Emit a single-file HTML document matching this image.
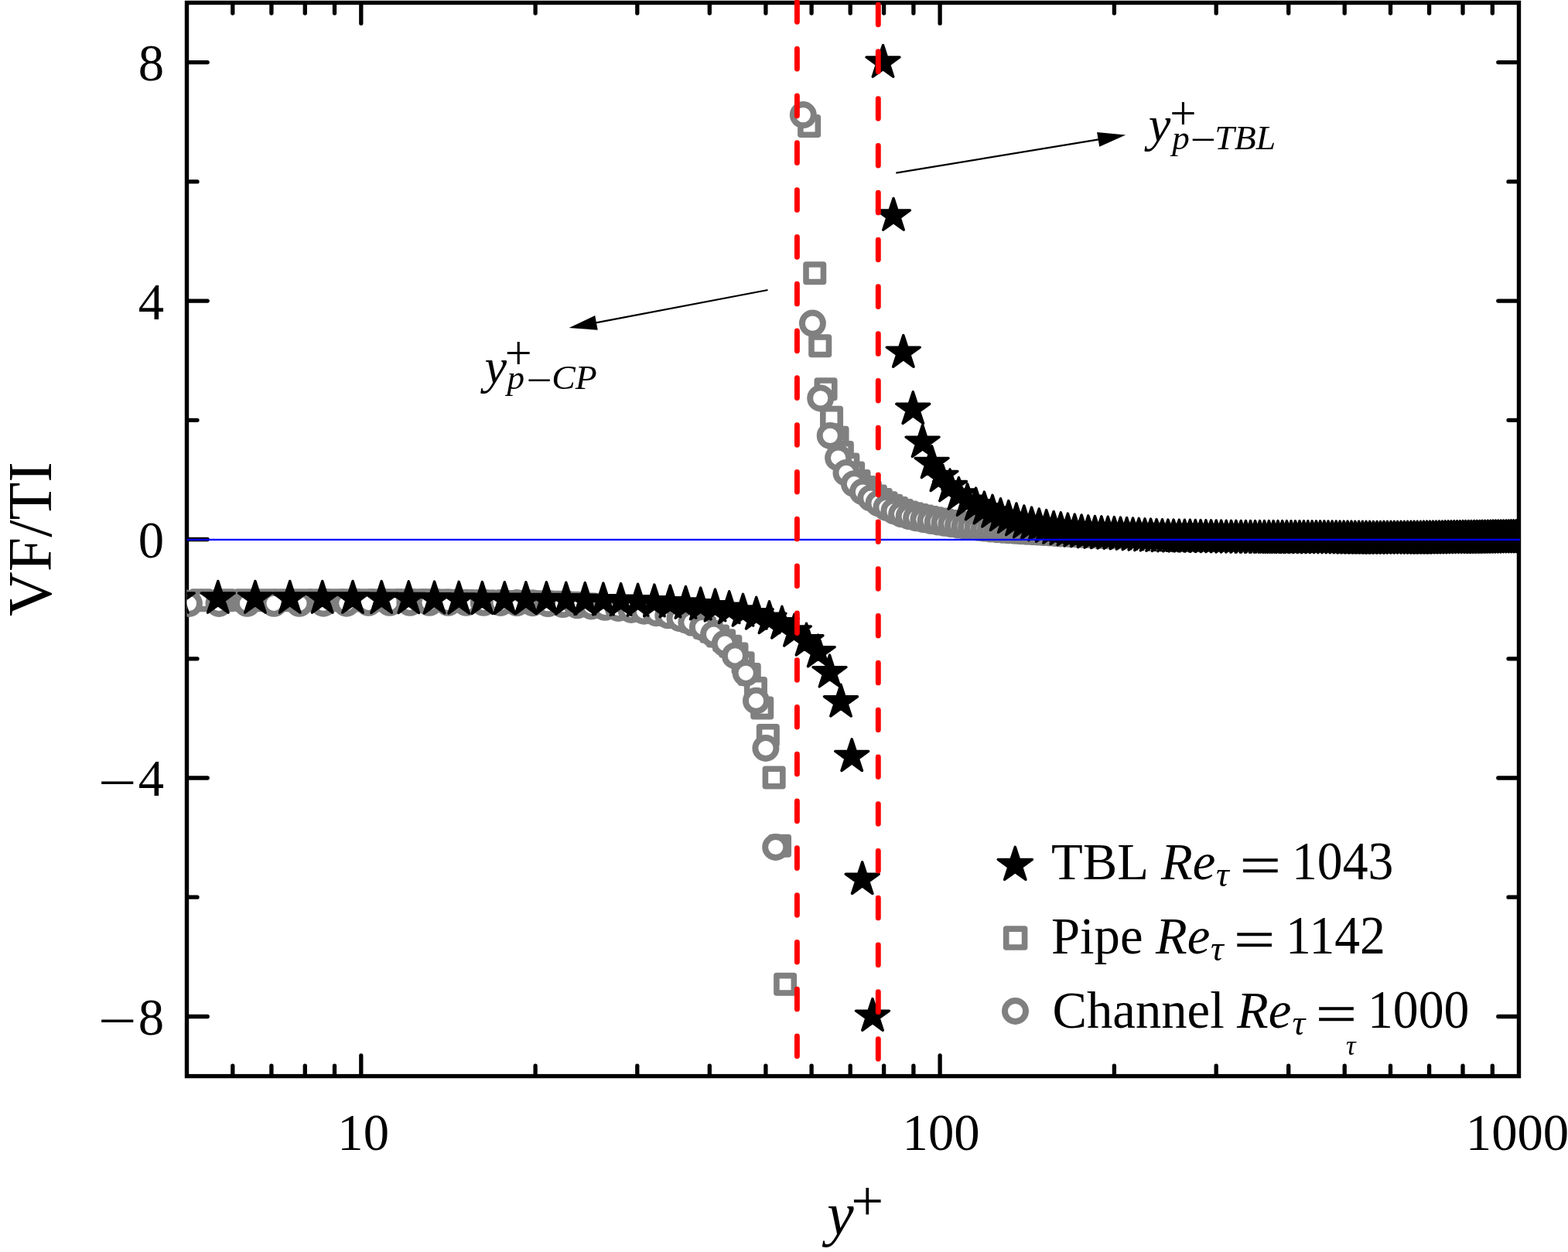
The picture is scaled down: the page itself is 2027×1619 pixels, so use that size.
<!DOCTYPE html>
<html lang="en"><head><meta charset="utf-8"><title>VF/TI versus y+</title>
<style>html,body{margin:0;padding:0;background:#fff}body{width:2027px;height:1619px;overflow:hidden}svg{display:block}text{font-family:"Liberation Serif","DejaVu Serif",serif;fill:#000}.i{font-style:italic}</style></head><body>
<svg width="2027" height="1619" viewBox="0 0 2027 1619">
<rect width="2027" height="1619" fill="#fff"/>
<clipPath id="pc"><rect x="241.5" y="3.5" width="1723.5" height="1388.1"/></clipPath>
<rect x="241.5" y="3.5" width="1722.0" height="1388.1" fill="none" stroke="#000" stroke-width="5.4"/>
<path d="M242.5 1314.5h25.7 M1962.5 1314.5h-25.7 M242.5 1006h25.7 M1962.5 1006h-25.7 M242.5 697.5h25.7 M1962.5 697.5h-25.7 M242.5 389.1h25.7 M1962.5 389.1h-25.7 M242.5 80.6h25.7 M1962.5 80.6h-25.7 M242.5 1160.2h12.5 M1962.5 1160.2h-12.5 M242.5 851.8h12.5 M1962.5 851.8h-12.5 M242.5 543.3h12.5 M1962.5 543.3h-12.5 M242.5 234.9h12.5 M1962.5 234.9h-12.5 M300.8 4.5v12.5 M300.8 1390.6v-12.5 M350.9 4.5v12.5 M350.9 1390.6v-12.5 M394.3 4.5v12.5 M394.3 1390.6v-12.5 M432.5 4.5v12.5 M432.5 1390.6v-12.5 M466.8 4.5v25.7 M466.8 1390.6v-25.7 M692.1 4.5v12.5 M692.1 1390.6v-12.5 M823.8 4.5v12.5 M823.8 1390.6v-12.5 M917.3 4.5v12.5 M917.3 1390.6v-12.5 M989.9 4.5v12.5 M989.9 1390.6v-12.5 M1049.1 4.5v12.5 M1049.1 1390.6v-12.5 M1099.2 4.5v12.5 M1099.2 1390.6v-12.5 M1142.6 4.5v12.5 M1142.6 1390.6v-12.5 M1180.9 4.5v12.5 M1180.9 1390.6v-12.5 M1215.1 4.5v25.7 M1215.1 1390.6v-25.7 M1440.4 4.5v12.5 M1440.4 1390.6v-12.5 M1572.2 4.5v12.5 M1572.2 1390.6v-12.5 M1665.7 4.5v12.5 M1665.7 1390.6v-12.5 M1738.2 4.5v12.5 M1738.2 1390.6v-12.5 M1797.5 4.5v12.5 M1797.5 1390.6v-12.5 M1847.6 4.5v12.5 M1847.6 1390.6v-12.5 M1891 4.5v12.5 M1891 1390.6v-12.5 M1929.3 4.5v12.5 M1929.3 1390.6v-12.5" fill="none" stroke="#000" stroke-width="5.3" stroke-linecap="round"/>
<g clip-path="url(#pc)">
<g fill="#fff" stroke="#808080" stroke-width="7.6" stroke-linejoin="round">
<rect x="217" y="765" width="22.45" height="22.45"/>
<rect x="249" y="765" width="22.45" height="22.45"/>
<rect x="278.6" y="765" width="22.45" height="22.45"/>
<rect x="306.1" y="765" width="22.45" height="22.45"/>
<rect x="331.9" y="765" width="22.45" height="22.45"/>
<rect x="356.1" y="765" width="22.45" height="22.45"/>
<rect x="379" y="765.1" width="22.45" height="22.45"/>
<rect x="400.8" y="765.1" width="22.45" height="22.45"/>
<rect x="421.4" y="765.1" width="22.45" height="22.45"/>
<rect x="441.2" y="765.1" width="22.45" height="22.45"/>
<rect x="460.1" y="765.1" width="22.45" height="22.45"/>
<rect x="478.2" y="765.1" width="22.45" height="22.45"/>
<rect x="495.7" y="765.1" width="22.45" height="22.45"/>
<rect x="512.5" y="765.1" width="22.45" height="22.45"/>
<rect x="528.8" y="765.1" width="22.45" height="22.45"/>
<rect x="544.5" y="765.1" width="22.45" height="22.45"/>
<rect x="559.7" y="765.3" width="22.45" height="22.45"/>
<rect x="574.5" y="765.5" width="22.45" height="22.45"/>
<rect x="588.8" y="765.8" width="22.45" height="22.45"/>
<rect x="602.8" y="766" width="22.45" height="22.45"/>
<rect x="616.4" y="766.3" width="22.45" height="22.45"/>
<rect x="629.6" y="766.5" width="22.45" height="22.45"/>
<rect x="642.5" y="766.7" width="22.45" height="22.45"/>
<rect x="655.2" y="766.8" width="22.45" height="22.45"/>
<rect x="667.5" y="767" width="22.45" height="22.45"/>
<rect x="679.6" y="767.2" width="22.45" height="22.45"/>
<rect x="691.4" y="767.4" width="22.45" height="22.45"/>
<rect x="703" y="767.6" width="22.45" height="22.45"/>
<rect x="714.4" y="767.8" width="22.45" height="22.45"/>
<rect x="725.6" y="768.5" width="22.45" height="22.45"/>
<rect x="736.5" y="769.3" width="22.45" height="22.45"/>
<rect x="747.3" y="770.2" width="22.45" height="22.45"/>
<rect x="757.9" y="771.7" width="22.45" height="22.45"/>
<rect x="768.3" y="772.9" width="22.45" height="22.45"/>
<rect x="778.5" y="773.7" width="22.45" height="22.45"/>
<rect x="788.6" y="774.5" width="22.45" height="22.45"/>
<rect x="798.6" y="775.5" width="22.45" height="22.45"/>
<rect x="808.4" y="776.6" width="22.45" height="22.45"/>
<rect x="818.1" y="777.7" width="22.45" height="22.45"/>
<rect x="827.6" y="779" width="22.45" height="22.45"/>
<rect x="837" y="780.6" width="22.45" height="22.45"/>
<rect x="846.3" y="782.3" width="22.45" height="22.45"/>
<rect x="855.5" y="784.3" width="22.45" height="22.45"/>
<rect x="864.5" y="786.6" width="22.45" height="22.45"/>
<rect x="873.5" y="789.3" width="22.45" height="22.45"/>
<rect x="882.3" y="792.4" width="22.45" height="22.45"/>
<rect x="891.1" y="796.2" width="22.45" height="22.45"/>
<rect x="899.7" y="800.6" width="22.45" height="22.45"/>
<rect x="908.3" y="805.6" width="22.45" height="22.45"/>
<rect x="916.8" y="811.2" width="22.45" height="22.45"/>
<rect x="924.9" y="817.1" width="22.45" height="22.45"/>
<rect x="933.1" y="824.6" width="22.45" height="22.45"/>
<rect x="941.2" y="834.2" width="22.45" height="22.45"/>
<rect x="949.4" y="846" width="22.45" height="22.45"/>
<rect x="957.5" y="860.8" width="22.45" height="22.45"/>
<rect x="965.7" y="878.7" width="22.45" height="22.45"/>
<rect x="974" y="904.2" width="22.45" height="22.45"/>
<rect x="981.6" y="939.7" width="22.45" height="22.45"/>
<rect x="989.4" y="994.3" width="22.45" height="22.45"/>
<rect x="996.8" y="1082.6" width="22.45" height="22.45"/>
<rect x="1003.9" y="1261.6" width="22.45" height="22.45"/>
<rect x="1034.9" y="151.8" width="22.45" height="22.45"/>
<rect x="1042" y="342" width="22.45" height="22.45"/>
<rect x="1049" y="436" width="22.45" height="22.45"/>
<rect x="1056.3" y="492" width="22.45" height="22.45"/>
<rect x="1063.8" y="528.6" width="22.45" height="22.45"/>
<rect x="1071.3" y="554.5" width="22.45" height="22.45"/>
<rect x="1077.6" y="573.8" width="22.45" height="22.45"/>
<rect x="1085.1" y="589.3" width="22.45" height="22.45"/>
<rect x="1091.9" y="600.4" width="22.45" height="22.45"/>
<rect x="1099.3" y="610.9" width="22.45" height="22.45"/>
<rect x="1106.7" y="618.9" width="22.45" height="22.45"/>
<rect x="1113.6" y="625" width="22.45" height="22.45"/>
<rect x="1120.6" y="630.3" width="22.45" height="22.45"/>
<rect x="1127.5" y="634.9" width="22.45" height="22.45"/>
<rect x="1134.3" y="639" width="22.45" height="22.45"/>
<rect x="1141.1" y="642.6" width="22.45" height="22.45"/>
<rect x="1147.9" y="645.9" width="22.45" height="22.45"/>
<rect x="1154.7" y="648.8" width="22.45" height="22.45"/>
<rect x="1161.4" y="651.3" width="22.45" height="22.45"/>
<rect x="1168.1" y="653.1" width="22.45" height="22.45"/>
<rect x="1174.7" y="654.8" width="22.45" height="22.45"/>
<rect x="1181.4" y="656.3" width="22.45" height="22.45"/>
<rect x="1188" y="657.8" width="22.45" height="22.45"/>
<rect x="1194.5" y="659.1" width="22.45" height="22.45"/>
<rect x="1201.1" y="660.4" width="22.45" height="22.45"/>
<rect x="1207.6" y="661.6" width="22.45" height="22.45"/>
<rect x="1214.1" y="662.7" width="22.45" height="22.45"/>
<rect x="1220.5" y="663.8" width="22.45" height="22.45"/>
<rect x="1226.9" y="664.9" width="22.45" height="22.45"/>
<rect x="1233.4" y="665.9" width="22.45" height="22.45"/>
<rect x="1239.7" y="666.9" width="22.45" height="22.45"/>
<rect x="1246.1" y="667.8" width="22.45" height="22.45"/>
<rect x="1252.4" y="668.6" width="22.45" height="22.45"/>
<rect x="1258.7" y="669.4" width="22.45" height="22.45"/>
<rect x="1265" y="670.2" width="22.45" height="22.45"/>
<rect x="1271.3" y="670.9" width="22.45" height="22.45"/>
<rect x="1277.6" y="671.5" width="22.45" height="22.45"/>
<rect x="1283.8" y="672.2" width="22.45" height="22.45"/>
<rect x="1290" y="672.8" width="22.45" height="22.45"/>
<rect x="1296.2" y="673.4" width="22.45" height="22.45"/>
<rect x="1302.4" y="673.9" width="22.45" height="22.45"/>
<rect x="1308.5" y="674.4" width="22.45" height="22.45"/>
<rect x="1314.6" y="674.9" width="22.45" height="22.45"/>
<rect x="1320.7" y="675.4" width="22.45" height="22.45"/>
<rect x="1326.8" y="675.8" width="22.45" height="22.45"/>
<rect x="1332.9" y="676.3" width="22.45" height="22.45"/>
<rect x="1339" y="676.8" width="22.45" height="22.45"/>
<rect x="1345" y="677.2" width="22.45" height="22.45"/>
<rect x="1351.1" y="677.6" width="22.45" height="22.45"/>
<rect x="1357.1" y="678" width="22.45" height="22.45"/>
<rect x="1363.1" y="678.3" width="22.45" height="22.45"/>
<rect x="1369" y="678.7" width="22.45" height="22.45"/>
<rect x="1375" y="679" width="22.45" height="22.45"/>
<rect x="1381" y="679.3" width="22.45" height="22.45"/>
<rect x="1386.9" y="679.7" width="22.45" height="22.45"/>
<rect x="1392.8" y="680" width="22.45" height="22.45"/>
<rect x="1398.7" y="680.3" width="22.45" height="22.45"/>
<rect x="1404.6" y="680.6" width="22.45" height="22.45"/>
<rect x="1410.5" y="680.9" width="22.45" height="22.45"/>
<rect x="1416.4" y="681.1" width="22.45" height="22.45"/>
<rect x="1422.2" y="681.4" width="22.45" height="22.45"/>
<rect x="1428.1" y="681.5" width="22.45" height="22.45"/>
<rect x="1433.9" y="681.2" width="22.45" height="22.45"/>
<rect x="1439.7" y="681" width="22.45" height="22.45"/>
<rect x="1445.5" y="680.8" width="22.45" height="22.45"/>
<rect x="1451.3" y="680.8" width="22.45" height="22.45"/>
<rect x="1457.1" y="680.7" width="22.45" height="22.45"/>
<rect x="1462.9" y="680.7" width="22.45" height="22.45"/>
<rect x="1468.7" y="680.9" width="22.45" height="22.45"/>
<rect x="1474.4" y="681" width="22.45" height="22.45"/>
<rect x="1480.2" y="681.2" width="22.45" height="22.45"/>
<rect x="1485.9" y="681.4" width="22.45" height="22.45"/>
<rect x="1491.6" y="681.5" width="22.45" height="22.45"/>
<rect x="1497.3" y="681.8" width="22.45" height="22.45"/>
<rect x="1503" y="681.9" width="22.45" height="22.45"/>
<rect x="1508.7" y="682" width="22.45" height="22.45"/>
<rect x="1514.4" y="682" width="22.45" height="22.45"/>
<rect x="1520.1" y="682" width="22.45" height="22.45"/>
<rect x="1525.8" y="682" width="22.45" height="22.45"/>
<rect x="1531.4" y="682.1" width="22.45" height="22.45"/>
<rect x="1537.1" y="682.2" width="22.45" height="22.45"/>
<rect x="1542.7" y="682.3" width="22.45" height="22.45"/>
<rect x="1548.3" y="682.5" width="22.45" height="22.45"/>
<rect x="1554" y="682.6" width="22.45" height="22.45"/>
<rect x="1559.6" y="682.7" width="22.45" height="22.45"/>
<rect x="1565.2" y="682.8" width="22.45" height="22.45"/>
<rect x="1570.8" y="682.9" width="22.45" height="22.45"/>
<rect x="1576.4" y="683" width="22.45" height="22.45"/>
<rect x="1582" y="683.1" width="22.45" height="22.45"/>
<rect x="1587.5" y="683.1" width="22.45" height="22.45"/>
<rect x="1593.1" y="683.2" width="22.45" height="22.45"/>
<rect x="1598.7" y="683.2" width="22.45" height="22.45"/>
<rect x="1604.2" y="683.2" width="22.45" height="22.45"/>
<rect x="1609.8" y="683.2" width="22.45" height="22.45"/>
<rect x="1615.3" y="683.3" width="22.45" height="22.45"/>
<rect x="1620.9" y="683.3" width="22.45" height="22.45"/>
<rect x="1626.4" y="683.3" width="22.45" height="22.45"/>
<rect x="1631.9" y="683.3" width="22.45" height="22.45"/>
<rect x="1637.4" y="683.4" width="22.45" height="22.45"/>
<rect x="1643" y="683.4" width="22.45" height="22.45"/>
<rect x="1648.5" y="683.4" width="22.45" height="22.45"/>
<rect x="1654" y="683.4" width="22.45" height="22.45"/>
<rect x="1659.5" y="683.5" width="22.45" height="22.45"/>
<rect x="1664.9" y="683.5" width="22.45" height="22.45"/>
<rect x="1670.4" y="683.5" width="22.45" height="22.45"/>
<rect x="1675.9" y="683.5" width="22.45" height="22.45"/>
<rect x="1681.4" y="683.5" width="22.45" height="22.45"/>
<rect x="1686.9" y="683.6" width="22.45" height="22.45"/>
<rect x="1692.3" y="683.6" width="22.45" height="22.45"/>
<rect x="1697.8" y="683.6" width="22.45" height="22.45"/>
<rect x="1703.2" y="683.6" width="22.45" height="22.45"/>
<rect x="1708.7" y="683.7" width="22.45" height="22.45"/>
<rect x="1714.1" y="683.7" width="22.45" height="22.45"/>
<rect x="1719.6" y="683.8" width="22.45" height="22.45"/>
<rect x="1725" y="683.8" width="22.45" height="22.45"/>
<rect x="1730.4" y="683.9" width="22.45" height="22.45"/>
<rect x="1735.8" y="683.9" width="22.45" height="22.45"/>
<rect x="1741.3" y="684" width="22.45" height="22.45"/>
<rect x="1746.7" y="684" width="22.45" height="22.45"/>
<rect x="1752.1" y="684" width="22.45" height="22.45"/>
<rect x="1757.5" y="684.1" width="22.45" height="22.45"/>
<rect x="1762.9" y="684.1" width="22.45" height="22.45"/>
<rect x="1768.3" y="684.2" width="22.45" height="22.45"/>
<rect x="1773.7" y="684.1" width="22.45" height="22.45"/>
<rect x="1779.1" y="684.1" width="22.45" height="22.45"/>
<rect x="1784.5" y="684.1" width="22.45" height="22.45"/>
<rect x="1789.9" y="684.1" width="22.45" height="22.45"/>
<rect x="1795.2" y="684.1" width="22.45" height="22.45"/>
<rect x="1800.6" y="684.1" width="22.45" height="22.45"/>
<rect x="1806" y="684" width="22.45" height="22.45"/>
<rect x="1811.4" y="684" width="22.45" height="22.45"/>
<rect x="1816.7" y="684" width="22.45" height="22.45"/>
<rect x="1822.1" y="684" width="22.45" height="22.45"/>
<rect x="1827.4" y="683.9" width="22.45" height="22.45"/>
<rect x="1832.8" y="683.9" width="22.45" height="22.45"/>
<rect x="1838.2" y="683.8" width="22.45" height="22.45"/>
<rect x="1843.5" y="683.8" width="22.45" height="22.45"/>
<rect x="1848.9" y="683.7" width="22.45" height="22.45"/>
<rect x="1854.2" y="683.7" width="22.45" height="22.45"/>
<rect x="1859.5" y="683.6" width="22.45" height="22.45"/>
<rect x="1864.9" y="683.6" width="22.45" height="22.45"/>
<rect x="1870.2" y="683.5" width="22.45" height="22.45"/>
<rect x="1875.5" y="683.5" width="22.45" height="22.45"/>
<rect x="1880.9" y="683.4" width="22.45" height="22.45"/>
<rect x="1886.2" y="683.3" width="22.45" height="22.45"/>
<rect x="1891.5" y="683.3" width="22.45" height="22.45"/>
<rect x="1896.8" y="683.2" width="22.45" height="22.45"/>
<rect x="1902.2" y="683.1" width="22.45" height="22.45"/>
<rect x="1907.5" y="683.1" width="22.45" height="22.45"/>
<rect x="1912.8" y="683" width="22.45" height="22.45"/>
<rect x="1918.1" y="682.9" width="22.45" height="22.45"/>
<rect x="1923.4" y="682.9" width="22.45" height="22.45"/>
<rect x="1928.7" y="682.8" width="22.45" height="22.45"/>
<rect x="1934" y="682.7" width="22.45" height="22.45"/>
<rect x="1939.3" y="682.7" width="22.45" height="22.45"/>
<rect x="1944.6" y="682.6" width="22.45" height="22.45"/>
<rect x="1949.9" y="682.5" width="22.45" height="22.45"/>
<rect x="1955.2" y="682.5" width="22.45" height="22.45"/>
<rect x="1960.5" y="682.5" width="22.45" height="22.45"/>
<rect x="1965.8" y="682.4" width="22.45" height="22.45"/>
<rect x="1971.1" y="682.4" width="22.45" height="22.45"/>
</g>
<g fill="#fff" stroke="#808080" stroke-width="7.9">
<circle cx="203.3" cy="780.4" r="13.55"/>
<circle cx="244.4" cy="780.4" r="13.55"/>
<circle cx="283" cy="780.4" r="13.55"/>
<circle cx="319.5" cy="780.3" r="13.55"/>
<circle cx="354.1" cy="780.3" r="13.55"/>
<circle cx="386.9" cy="780.3" r="13.55"/>
<circle cx="418.1" cy="780.2" r="13.55"/>
<circle cx="447.9" cy="780.2" r="13.55"/>
<circle cx="476.4" cy="779.3" r="13.55"/>
<circle cx="503.7" cy="779.3" r="13.55"/>
<circle cx="529.9" cy="779.3" r="13.55"/>
<circle cx="555.1" cy="779.3" r="13.55"/>
<circle cx="579.3" cy="779.3" r="13.55"/>
<circle cx="602.7" cy="779.3" r="13.55"/>
<circle cx="625.3" cy="779.3" r="13.55"/>
<circle cx="647.1" cy="779.4" r="13.55"/>
<circle cx="668.2" cy="779.6" r="13.55"/>
<circle cx="688.6" cy="779.7" r="13.55"/>
<circle cx="708.4" cy="780.6" r="13.55"/>
<circle cx="727.6" cy="781.6" r="13.55"/>
<circle cx="746.3" cy="782.8" r="13.55"/>
<circle cx="764.5" cy="784" r="13.55"/>
<circle cx="782.1" cy="785.3" r="13.55"/>
<circle cx="799.3" cy="786.5" r="13.55"/>
<circle cx="816" cy="788.4" r="13.55"/>
<circle cx="832.4" cy="790.2" r="13.55"/>
<circle cx="848.3" cy="792.7" r="13.55"/>
<circle cx="863.8" cy="795.8" r="13.55"/>
<circle cx="879" cy="799.7" r="13.55"/>
<circle cx="893.9" cy="804.7" r="13.55"/>
<circle cx="908.4" cy="811.3" r="13.55"/>
<circle cx="922.6" cy="820.2" r="13.55"/>
<circle cx="937.2" cy="832.1" r="13.55"/>
<circle cx="950.4" cy="847.9" r="13.55"/>
<circle cx="964.2" cy="870.3" r="13.55"/>
<circle cx="977.5" cy="906.2" r="13.55"/>
<circle cx="989.9" cy="967.5" r="13.55"/>
<circle cx="1002.7" cy="1095.5" r="13.55"/>
<circle cx="1038.3" cy="148.6" r="13.55"/>
<circle cx="1050.4" cy="418.1" r="13.55"/>
<circle cx="1060.7" cy="514.9" r="13.55"/>
<circle cx="1073.2" cy="563.4" r="13.55"/>
<circle cx="1083.6" cy="592" r="13.55"/>
<circle cx="1094" cy="611.4" r="13.55"/>
<circle cx="1104.4" cy="625.7" r="13.55"/>
<circle cx="1115.4" cy="636" r="13.55"/>
<circle cx="1125.8" cy="644.2" r="13.55"/>
<circle cx="1136" cy="650.9" r="13.55"/>
<circle cx="1146" cy="656.3" r="13.55"/>
<circle cx="1155.9" cy="660.9" r="13.55"/>
<circle cx="1165.6" cy="664.8" r="13.55"/>
<circle cx="1175.2" cy="667.7" r="13.55"/>
<circle cx="1184.6" cy="669.8" r="13.55"/>
<circle cx="1193.9" cy="671.7" r="13.55"/>
<circle cx="1203.1" cy="673.4" r="13.55"/>
<circle cx="1212.2" cy="674.9" r="13.55"/>
<circle cx="1221.1" cy="676.3" r="13.55"/>
<circle cx="1229.9" cy="677.6" r="13.55"/>
<circle cx="1238.6" cy="678.9" r="13.55"/>
<circle cx="1247.2" cy="680.1" r="13.55"/>
<circle cx="1255.6" cy="681.2" r="13.55"/>
<circle cx="1264" cy="682.2" r="13.55"/>
<circle cx="1272.2" cy="683.1" r="13.55"/>
<circle cx="1280.4" cy="683.9" r="13.55"/>
<circle cx="1288.4" cy="684.7" r="13.55"/>
<circle cx="1296.4" cy="685.3" r="13.55"/>
<circle cx="1304.2" cy="685.8" r="13.55"/>
<circle cx="1312" cy="686.3" r="13.55"/>
<circle cx="1319.6" cy="686.8" r="13.55"/>
<circle cx="1327.2" cy="687.3" r="13.55"/>
<circle cx="1334.7" cy="687.7" r="13.55"/>
<circle cx="1342.1" cy="688.1" r="13.55"/>
<circle cx="1349.4" cy="688.6" r="13.55"/>
<circle cx="1356.6" cy="689" r="13.55"/>
<circle cx="1363.8" cy="689.5" r="13.55"/>
<circle cx="1370.9" cy="689.9" r="13.55"/>
<circle cx="1377.9" cy="690.2" r="13.55"/>
<circle cx="1384.8" cy="690.6" r="13.55"/>
<circle cx="1391.7" cy="690.9" r="13.55"/>
<circle cx="1398.5" cy="691.3" r="13.55"/>
<circle cx="1405.2" cy="691.6" r="13.55"/>
<circle cx="1411.8" cy="691.9" r="13.55"/>
<circle cx="1418.4" cy="692.2" r="13.55"/>
<circle cx="1424.9" cy="692.5" r="13.55"/>
<circle cx="1431.4" cy="692.7" r="13.55"/>
<circle cx="1437.7" cy="693" r="13.55"/>
<circle cx="1444.1" cy="692.7" r="13.55"/>
<circle cx="1450.3" cy="692.4" r="13.55"/>
<circle cx="1456.5" cy="692.2" r="13.55"/>
<circle cx="1462.7" cy="692.1" r="13.55"/>
<circle cx="1468.7" cy="692.1" r="13.55"/>
<circle cx="1474.8" cy="692.1" r="13.55"/>
<circle cx="1480.8" cy="692.2" r="13.55"/>
<circle cx="1486.7" cy="692.3" r="13.55"/>
<circle cx="1492.5" cy="692.5" r="13.55"/>
<circle cx="1498.4" cy="692.6" r="13.55"/>
<circle cx="1504.1" cy="692.8" r="13.55"/>
<circle cx="1509.8" cy="693" r="13.55"/>
<circle cx="1515.5" cy="693.1" r="13.55"/>
<circle cx="1521.1" cy="693.2" r="13.55"/>
<circle cx="1526.7" cy="693.2" r="13.55"/>
<circle cx="1532.2" cy="693.2" r="13.55"/>
<circle cx="1537.6" cy="693.2" r="13.55"/>
<circle cx="1543.1" cy="693.3" r="13.55"/>
<circle cx="1548.5" cy="693.4" r="13.55"/>
<circle cx="1553.8" cy="693.6" r="13.55"/>
<circle cx="1559.1" cy="693.7" r="13.55"/>
<circle cx="1564.3" cy="693.8" r="13.55"/>
<circle cx="1569.5" cy="693.9" r="13.55"/>
<circle cx="1574.7" cy="694" r="13.55"/>
<circle cx="1579.8" cy="694.1" r="13.55"/>
<circle cx="1584.9" cy="694.2" r="13.55"/>
<circle cx="1590" cy="694.3" r="13.55"/>
<circle cx="1595" cy="694.3" r="13.55"/>
<circle cx="1599.9" cy="694.4" r="13.55"/>
<circle cx="1604.9" cy="694.4" r="13.55"/>
<circle cx="1609.8" cy="694.4" r="13.55"/>
<circle cx="1614.6" cy="694.4" r="13.55"/>
<circle cx="1619.4" cy="694.5" r="13.55"/>
<circle cx="1624.2" cy="694.5" r="13.55"/>
<circle cx="1629" cy="694.5" r="13.55"/>
<circle cx="1633.7" cy="694.5" r="13.55"/>
<circle cx="1638.4" cy="694.5" r="13.55"/>
<circle cx="1643" cy="694.6" r="13.55"/>
<circle cx="1647.6" cy="694.6" r="13.55"/>
<circle cx="1652.2" cy="694.6" r="13.55"/>
<circle cx="1656.8" cy="694.6" r="13.55"/>
<circle cx="1661.3" cy="694.7" r="13.55"/>
<circle cx="1665.8" cy="694.7" r="13.55"/>
<circle cx="1670.2" cy="694.7" r="13.55"/>
<circle cx="1674.7" cy="694.7" r="13.55"/>
<circle cx="1679.1" cy="694.7" r="13.55"/>
<circle cx="1683.4" cy="694.7" r="13.55"/>
<circle cx="1687.8" cy="694.7" r="13.55"/>
<circle cx="1692.1" cy="694.8" r="13.55"/>
<circle cx="1696.4" cy="694.8" r="13.55"/>
<circle cx="1700.6" cy="694.8" r="13.55"/>
<circle cx="1704.9" cy="694.8" r="13.55"/>
<circle cx="1709" cy="694.8" r="13.55"/>
<circle cx="1713.2" cy="694.8" r="13.55"/>
<circle cx="1717.4" cy="694.9" r="13.55"/>
<circle cx="1721.5" cy="694.9" r="13.55"/>
<circle cx="1725.6" cy="694.9" r="13.55"/>
<circle cx="1729.6" cy="695" r="13.55"/>
<circle cx="1733.7" cy="695" r="13.55"/>
<circle cx="1737.7" cy="695" r="13.55"/>
<circle cx="1741.7" cy="695.1" r="13.55"/>
<circle cx="1745.7" cy="695.1" r="13.55"/>
<circle cx="1749.6" cy="695.2" r="13.55"/>
<circle cx="1753.5" cy="695.2" r="13.55"/>
<circle cx="1757.4" cy="695.2" r="13.55"/>
<circle cx="1761.3" cy="695.3" r="13.55"/>
<circle cx="1765.1" cy="695.3" r="13.55"/>
<circle cx="1769" cy="695.3" r="13.55"/>
<circle cx="1772.8" cy="695.4" r="13.55"/>
<circle cx="1776.6" cy="695.4" r="13.55"/>
<circle cx="1780.3" cy="695.4" r="13.55"/>
<circle cx="1784.1" cy="695.4" r="13.55"/>
<circle cx="1787.8" cy="695.4" r="13.55"/>
<circle cx="1791.5" cy="695.3" r="13.55"/>
<circle cx="1795.2" cy="695.3" r="13.55"/>
<circle cx="1798.8" cy="695.3" r="13.55"/>
<circle cx="1802.4" cy="695.3" r="13.55"/>
<circle cx="1806.1" cy="695.3" r="13.55"/>
<circle cx="1809.7" cy="695.3" r="13.55"/>
<circle cx="1813.2" cy="695.3" r="13.55"/>
<circle cx="1816.8" cy="695.3" r="13.55"/>
<circle cx="1820.3" cy="695.3" r="13.55"/>
<circle cx="1823.8" cy="695.3" r="13.55"/>
<circle cx="1827.3" cy="695.2" r="13.55"/>
<circle cx="1830.8" cy="695.2" r="13.55"/>
<circle cx="1834.3" cy="695.2" r="13.55"/>
<circle cx="1837.7" cy="695.2" r="13.55"/>
<circle cx="1841.1" cy="695.1" r="13.55"/>
<circle cx="1844.6" cy="695.1" r="13.55"/>
<circle cx="1847.9" cy="695.1" r="13.55"/>
<circle cx="1851.3" cy="695" r="13.55"/>
<circle cx="1854.7" cy="695" r="13.55"/>
<circle cx="1858" cy="695" r="13.55"/>
<circle cx="1861.3" cy="694.9" r="13.55"/>
<circle cx="1864.6" cy="694.9" r="13.55"/>
<circle cx="1867.9" cy="694.9" r="13.55"/>
<circle cx="1871.2" cy="694.8" r="13.55"/>
<circle cx="1874.4" cy="694.8" r="13.55"/>
<circle cx="1877.7" cy="694.8" r="13.55"/>
<circle cx="1880.9" cy="694.7" r="13.55"/>
<circle cx="1884.1" cy="694.7" r="13.55"/>
<circle cx="1887.3" cy="694.7" r="13.55"/>
<circle cx="1890.5" cy="694.6" r="13.55"/>
<circle cx="1893.6" cy="694.6" r="13.55"/>
<circle cx="1896.8" cy="694.6" r="13.55"/>
<circle cx="1899.9" cy="694.5" r="13.55"/>
<circle cx="1903" cy="694.5" r="13.55"/>
<circle cx="1906.1" cy="694.5" r="13.55"/>
<circle cx="1909.2" cy="694.4" r="13.55"/>
<circle cx="1912.3" cy="694.4" r="13.55"/>
<circle cx="1915.3" cy="694.3" r="13.55"/>
<circle cx="1918.3" cy="694.3" r="13.55"/>
<circle cx="1921.4" cy="694.3" r="13.55"/>
<circle cx="1924.4" cy="694.2" r="13.55"/>
<circle cx="1927.4" cy="694.2" r="13.55"/>
<circle cx="1930.4" cy="694.2" r="13.55"/>
<circle cx="1933.3" cy="694.1" r="13.55"/>
<circle cx="1936.3" cy="694.1" r="13.55"/>
<circle cx="1939.2" cy="694" r="13.55"/>
<circle cx="1942.2" cy="694" r="13.55"/>
<circle cx="1945.1" cy="694" r="13.55"/>
<circle cx="1948" cy="693.9" r="13.55"/>
<circle cx="1950.9" cy="693.9" r="13.55"/>
<circle cx="1953.8" cy="693.8" r="13.55"/>
<circle cx="1956.6" cy="693.8" r="13.55"/>
<circle cx="1959.5" cy="693.8" r="13.55"/>
<circle cx="1962.3" cy="693.7" r="13.55"/>
<circle cx="1965.1" cy="693.7" r="13.55"/>
<circle cx="1968" cy="693.7" r="13.55"/>
<circle cx="1970.8" cy="693.7" r="13.55"/>
<circle cx="1973.6" cy="693.7" r="13.55"/>
<circle cx="1976.3" cy="693.7" r="13.55"/>
<circle cx="1979.1" cy="693.6" r="13.55"/>
<circle cx="1981.9" cy="693.6" r="13.55"/>
<circle cx="1984.6" cy="693.6" r="13.55"/>
<circle cx="1987.3" cy="693.6" r="13.55"/>
</g>
<path d="M229.8 751.4l5.07 15.59 16.39 -0.00 -13.26 9.63 5.07 15.59 -13.26 -9.63 -13.26 9.63 5.07 -15.59 -13.26 -9.63 16.39 0.00zM281.8 751.4l5.07 15.59 16.39 -0.00 -13.26 9.63 5.07 15.59 -13.26 -9.63 -13.26 9.63 5.07 -15.59 -13.26 -9.63 16.39 0.00zM329.9 751.4l5.07 15.59 16.39 -0.00 -13.26 9.63 5.07 15.59 -13.26 -9.63 -13.26 9.63 5.07 -15.59 -13.26 -9.63 16.39 0.00zM374.7 751.4l5.07 15.59 16.39 -0.00 -13.26 9.63 5.07 15.59 -13.26 -9.63 -13.26 9.63 5.07 -15.59 -13.26 -9.63 16.39 0.00zM416.7 751.4l5.07 15.59 16.39 -0.00 -13.26 9.63 5.07 15.59 -13.26 -9.63 -13.26 9.63 5.07 -15.59 -13.26 -9.63 16.39 0.00zM456 751.4l5.07 15.59 16.39 -0.00 -13.26 9.63 5.07 15.59 -13.26 -9.63 -13.26 9.63 5.07 -15.59 -13.26 -9.63 16.39 0.00zM493.2 751.6l5.07 15.59 16.39 -0.00 -13.26 9.63 5.07 15.59 -13.26 -9.63 -13.26 9.63 5.07 -15.59 -13.26 -9.63 16.39 0.00zM528.3 751.8l5.07 15.59 16.39 -0.00 -13.26 9.63 5.07 15.59 -13.26 -9.63 -13.26 9.63 5.07 -15.59 -13.26 -9.63 16.39 0.00zM561.6 752.1l5.07 15.59 16.39 -0.00 -13.26 9.63 5.07 15.59 -13.26 -9.63 -13.26 9.63 5.07 -15.59 -13.26 -9.63 16.39 0.00zM593.2 752.3l5.07 15.59 16.39 -0.00 -13.26 9.63 5.07 15.59 -13.26 -9.63 -13.26 9.63 5.07 -15.59 -13.26 -9.63 16.39 0.00zM623.4 752.6l5.07 15.59 16.39 -0.00 -13.26 9.63 5.07 15.59 -13.26 -9.63 -13.26 9.63 5.07 -15.59 -13.26 -9.63 16.39 0.00zM652.3 752.7l5.07 15.59 16.39 -0.00 -13.26 9.63 5.07 15.59 -13.26 -9.63 -13.26 9.63 5.07 -15.59 -13.26 -9.63 16.39 0.00zM679.9 752.8l5.07 15.59 16.39 -0.00 -13.26 9.63 5.07 15.59 -13.26 -9.63 -13.26 9.63 5.07 -15.59 -13.26 -9.63 16.39 0.00zM706.4 752.8l5.07 15.59 16.39 -0.00 -13.26 9.63 5.07 15.59 -13.26 -9.63 -13.26 9.63 5.07 -15.59 -13.26 -9.63 16.39 0.00zM731.8 753.2l5.07 15.59 16.39 -0.00 -13.26 9.63 5.07 15.59 -13.26 -9.63 -13.26 9.63 5.07 -15.59 -13.26 -9.63 16.39 0.00zM756.3 753.6l5.07 15.59 16.39 -0.00 -13.26 9.63 5.07 15.59 -13.26 -9.63 -13.26 9.63 5.07 -15.59 -13.26 -9.63 16.39 0.00zM779.9 754l5.07 15.59 16.39 -0.00 -13.26 9.63 5.07 15.59 -13.26 -9.63 -13.26 9.63 5.07 -15.59 -13.26 -9.63 16.39 0.00zM802.6 754.6l5.07 15.59 16.39 -0.00 -13.26 9.63 5.07 15.59 -13.26 -9.63 -13.26 9.63 5.07 -15.59 -13.26 -9.63 16.39 0.00zM824.6 755.2l5.07 15.59 16.39 -0.00 -13.26 9.63 5.07 15.59 -13.26 -9.63 -13.26 9.63 5.07 -15.59 -13.26 -9.63 16.39 0.00zM845.9 756l5.07 15.59 16.39 -0.00 -13.26 9.63 5.07 15.59 -13.26 -9.63 -13.26 9.63 5.07 -15.59 -13.26 -9.63 16.39 0.00zM866.4 757l5.07 15.59 16.39 -0.00 -13.26 9.63 5.07 15.59 -13.26 -9.63 -13.26 9.63 5.07 -15.59 -13.26 -9.63 16.39 0.00zM886.4 758.4l5.07 15.59 16.39 -0.00 -13.26 9.63 5.07 15.59 -13.26 -9.63 -13.26 9.63 5.07 -15.59 -13.26 -9.63 16.39 0.00zM905.7 760l5.07 15.59 16.39 -0.00 -13.26 9.63 5.07 15.59 -13.26 -9.63 -13.26 9.63 5.07 -15.59 -13.26 -9.63 16.39 0.00zM924.5 762.1l5.07 15.59 16.39 -0.00 -13.26 9.63 5.07 15.59 -13.26 -9.63 -13.26 9.63 5.07 -15.59 -13.26 -9.63 16.39 0.00zM942.7 764.7l5.07 15.59 16.39 -0.00 -13.26 9.63 5.07 15.59 -13.26 -9.63 -13.26 9.63 5.07 -15.59 -13.26 -9.63 16.39 0.00zM960.5 768.3l5.07 15.59 16.39 -0.00 -13.26 9.63 5.07 15.59 -13.26 -9.63 -13.26 9.63 5.07 -15.59 -13.26 -9.63 16.39 0.00zM977.7 772.2l5.07 15.59 16.39 -0.00 -13.26 9.63 5.07 15.59 -13.26 -9.63 -13.26 9.63 5.07 -15.59 -13.26 -9.63 16.39 0.00zM994.5 777.7l5.07 15.59 16.39 -0.00 -13.26 9.63 5.07 15.59 -13.26 -9.63 -13.26 9.63 5.07 -15.59 -13.26 -9.63 16.39 0.00zM1010.9 784.2l5.07 15.59 16.39 -0.00 -13.26 9.63 5.07 15.59 -13.26 -9.63 -13.26 9.63 5.07 -15.59 -13.26 -9.63 16.39 0.00zM1026.9 794.3l5.07 15.59 16.39 -0.00 -13.26 9.63 5.07 15.59 -13.26 -9.63 -13.26 9.63 5.07 -15.59 -13.26 -9.63 16.39 0.00zM1042.5 806.2l5.07 15.59 16.39 -0.00 -13.26 9.63 5.07 15.59 -13.26 -9.63 -13.26 9.63 5.07 -15.59 -13.26 -9.63 16.39 0.00zM1057.7 821l5.07 15.59 16.39 -0.00 -13.26 9.63 5.07 15.59 -13.26 -9.63 -13.26 9.63 5.07 -15.59 -13.26 -9.63 16.39 0.00zM1072.5 847.1l5.07 15.59 16.39 -0.00 -13.26 9.63 5.07 15.59 -13.26 -9.63 -13.26 9.63 5.07 -15.59 -13.26 -9.63 16.39 0.00zM1087 885.2l5.07 15.59 16.39 -0.00 -13.26 9.63 5.07 15.59 -13.26 -9.63 -13.26 9.63 5.07 -15.59 -13.26 -9.63 16.39 0.00zM1101.2 955.8l5.07 15.59 16.39 -0.00 -13.26 9.63 5.07 15.59 -13.26 -9.63 -13.26 9.63 5.07 -15.59 -13.26 -9.63 16.39 0.00zM1114.7 1114.7l5.07 15.59 16.39 -0.00 -13.26 9.63 5.07 15.59 -13.26 -9.63 -13.26 9.63 5.07 -15.59 -13.26 -9.63 16.39 0.00zM1128 1291.5l5.07 15.59 16.39 -0.00 -13.26 9.63 5.07 15.59 -13.26 -9.63 -13.26 9.63 5.07 -15.59 -13.26 -9.63 16.39 0.00zM1141.5 58.4l5.07 15.59 16.39 -0.00 -13.26 9.63 5.07 15.59 -13.26 -9.63 -13.26 9.63 5.07 -15.59 -13.26 -9.63 16.39 0.00zM1155 256.4l5.07 15.59 16.39 -0.00 -13.26 9.63 5.07 15.59 -13.26 -9.63 -13.26 9.63 5.07 -15.59 -13.26 -9.63 16.39 0.00zM1167.8 433.5l5.07 15.59 16.39 -0.00 -13.26 9.63 5.07 15.59 -13.26 -9.63 -13.26 9.63 5.07 -15.59 -13.26 -9.63 16.39 0.00zM1180.3 506.7l5.07 15.59 16.39 -0.00 -13.26 9.63 5.07 15.59 -13.26 -9.63 -13.26 9.63 5.07 -15.59 -13.26 -9.63 16.39 0.00zM1192.6 549.6l5.07 15.59 16.39 -0.00 -13.26 9.63 5.07 15.59 -13.26 -9.63 -13.26 9.63 5.07 -15.59 -13.26 -9.63 16.39 0.00zM1204.6 576.8l5.07 15.59 16.39 -0.00 -13.26 9.63 5.07 15.59 -13.26 -9.63 -13.26 9.63 5.07 -15.59 -13.26 -9.63 16.39 0.00zM1216.4 593.8l5.07 15.59 16.39 -0.00 -13.26 9.63 5.07 15.59 -13.26 -9.63 -13.26 9.63 5.07 -15.59 -13.26 -9.63 16.39 0.00zM1228 606.9l5.07 15.59 16.39 -0.00 -13.26 9.63 5.07 15.59 -13.26 -9.63 -13.26 9.63 5.07 -15.59 -13.26 -9.63 16.39 0.00zM1239.4 617.4l5.07 15.59 16.39 -0.00 -13.26 9.63 5.07 15.59 -13.26 -9.63 -13.26 9.63 5.07 -15.59 -13.26 -9.63 16.39 0.00zM1250.6 625.5l5.07 15.59 16.39 -0.00 -13.26 9.63 5.07 15.59 -13.26 -9.63 -13.26 9.63 5.07 -15.59 -13.26 -9.63 16.39 0.00zM1261.6 631l5.07 15.59 16.39 -0.00 -13.26 9.63 5.07 15.59 -13.26 -9.63 -13.26 9.63 5.07 -15.59 -13.26 -9.63 16.39 0.00zM1272.4 636l5.07 15.59 16.39 -0.00 -13.26 9.63 5.07 15.59 -13.26 -9.63 -13.26 9.63 5.07 -15.59 -13.26 -9.63 16.39 0.00zM1283 640.3l5.07 15.59 16.39 -0.00 -13.26 9.63 5.07 15.59 -13.26 -9.63 -13.26 9.63 5.07 -15.59 -13.26 -9.63 16.39 0.00zM1293.5 644.7l5.07 15.59 16.39 -0.00 -13.26 9.63 5.07 15.59 -13.26 -9.63 -13.26 9.63 5.07 -15.59 -13.26 -9.63 16.39 0.00zM1303.8 647.6l5.07 15.59 16.39 -0.00 -13.26 9.63 5.07 15.59 -13.26 -9.63 -13.26 9.63 5.07 -15.59 -13.26 -9.63 16.39 0.00zM1313.9 650.9l5.07 15.59 16.39 -0.00 -13.26 9.63 5.07 15.59 -13.26 -9.63 -13.26 9.63 5.07 -15.59 -13.26 -9.63 16.39 0.00zM1323.8 653.9l5.07 15.59 16.39 -0.00 -13.26 9.63 5.07 15.59 -13.26 -9.63 -13.26 9.63 5.07 -15.59 -13.26 -9.63 16.39 0.00zM1333.6 656l5.07 15.59 16.39 -0.00 -13.26 9.63 5.07 15.59 -13.26 -9.63 -13.26 9.63 5.07 -15.59 -13.26 -9.63 16.39 0.00zM1343.2 657.9l5.07 15.59 16.39 -0.00 -13.26 9.63 5.07 15.59 -13.26 -9.63 -13.26 9.63 5.07 -15.59 -13.26 -9.63 16.39 0.00zM1352.7 659.5l5.07 15.59 16.39 -0.00 -13.26 9.63 5.07 15.59 -13.26 -9.63 -13.26 9.63 5.07 -15.59 -13.26 -9.63 16.39 0.00zM1362.1 661.4l5.07 15.59 16.39 -0.00 -13.26 9.63 5.07 15.59 -13.26 -9.63 -13.26 9.63 5.07 -15.59 -13.26 -9.63 16.39 0.00zM1371.3 662.7l5.07 15.59 16.39 -0.00 -13.26 9.63 5.07 15.59 -13.26 -9.63 -13.26 9.63 5.07 -15.59 -13.26 -9.63 16.39 0.00zM1380.4 664.1l5.07 15.59 16.39 -0.00 -13.26 9.63 5.07 15.59 -13.26 -9.63 -13.26 9.63 5.07 -15.59 -13.26 -9.63 16.39 0.00zM1389.3 665.1l5.07 15.59 16.39 -0.00 -13.26 9.63 5.07 15.59 -13.26 -9.63 -13.26 9.63 5.07 -15.59 -13.26 -9.63 16.39 0.00zM1398.1 665.9l5.07 15.59 16.39 -0.00 -13.26 9.63 5.07 15.59 -13.26 -9.63 -13.26 9.63 5.07 -15.59 -13.26 -9.63 16.39 0.00zM1406.8 666.8l5.07 15.59 16.39 -0.00 -13.26 9.63 5.07 15.59 -13.26 -9.63 -13.26 9.63 5.07 -15.59 -13.26 -9.63 16.39 0.00zM1415.4 667.4l5.07 15.59 16.39 -0.00 -13.26 9.63 5.07 15.59 -13.26 -9.63 -13.26 9.63 5.07 -15.59 -13.26 -9.63 16.39 0.00zM1423.9 667.8l5.07 15.59 16.39 -0.00 -13.26 9.63 5.07 15.59 -13.26 -9.63 -13.26 9.63 5.07 -15.59 -13.26 -9.63 16.39 0.00zM1432.2 668.2l5.07 15.59 16.39 -0.00 -13.26 9.63 5.07 15.59 -13.26 -9.63 -13.26 9.63 5.07 -15.59 -13.26 -9.63 16.39 0.00zM1440.4 668.5l5.07 15.59 16.39 -0.00 -13.26 9.63 5.07 15.59 -13.26 -9.63 -13.26 9.63 5.07 -15.59 -13.26 -9.63 16.39 0.00zM1448.5 669l5.07 15.59 16.39 -0.00 -13.26 9.63 5.07 15.59 -13.26 -9.63 -13.26 9.63 5.07 -15.59 -13.26 -9.63 16.39 0.00zM1456.6 669.4l5.07 15.59 16.39 -0.00 -13.26 9.63 5.07 15.59 -13.26 -9.63 -13.26 9.63 5.07 -15.59 -13.26 -9.63 16.39 0.00zM1464.5 669.9l5.07 15.59 16.39 -0.00 -13.26 9.63 5.07 15.59 -13.26 -9.63 -13.26 9.63 5.07 -15.59 -13.26 -9.63 16.39 0.00zM1472.3 670.3l5.07 15.59 16.39 -0.00 -13.26 9.63 5.07 15.59 -13.26 -9.63 -13.26 9.63 5.07 -15.59 -13.26 -9.63 16.39 0.00zM1480 670.8l5.07 15.59 16.39 -0.00 -13.26 9.63 5.07 15.59 -13.26 -9.63 -13.26 9.63 5.07 -15.59 -13.26 -9.63 16.39 0.00zM1487.6 671.1l5.07 15.59 16.39 -0.00 -13.26 9.63 5.07 15.59 -13.26 -9.63 -13.26 9.63 5.07 -15.59 -13.26 -9.63 16.39 0.00zM1495.1 671.5l5.07 15.59 16.39 -0.00 -13.26 9.63 5.07 15.59 -13.26 -9.63 -13.26 9.63 5.07 -15.59 -13.26 -9.63 16.39 0.00zM1502.5 671.7l5.07 15.59 16.39 -0.00 -13.26 9.63 5.07 15.59 -13.26 -9.63 -13.26 9.63 5.07 -15.59 -13.26 -9.63 16.39 0.00zM1509.9 672l5.07 15.59 16.39 -0.00 -13.26 9.63 5.07 15.59 -13.26 -9.63 -13.26 9.63 5.07 -15.59 -13.26 -9.63 16.39 0.00zM1517.1 672.1l5.07 15.59 16.39 -0.00 -13.26 9.63 5.07 15.59 -13.26 -9.63 -13.26 9.63 5.07 -15.59 -13.26 -9.63 16.39 0.00zM1524.3 672.2l5.07 15.59 16.39 -0.00 -13.26 9.63 5.07 15.59 -13.26 -9.63 -13.26 9.63 5.07 -15.59 -13.26 -9.63 16.39 0.00zM1531.4 672.2l5.07 15.59 16.39 -0.00 -13.26 9.63 5.07 15.59 -13.26 -9.63 -13.26 9.63 5.07 -15.59 -13.26 -9.63 16.39 0.00zM1538.4 672.2l5.07 15.59 16.39 -0.00 -13.26 9.63 5.07 15.59 -13.26 -9.63 -13.26 9.63 5.07 -15.59 -13.26 -9.63 16.39 0.00zM1545.3 672.4l5.07 15.59 16.39 -0.00 -13.26 9.63 5.07 15.59 -13.26 -9.63 -13.26 9.63 5.07 -15.59 -13.26 -9.63 16.39 0.00zM1552.1 672.5l5.07 15.59 16.39 -0.00 -13.26 9.63 5.07 15.59 -13.26 -9.63 -13.26 9.63 5.07 -15.59 -13.26 -9.63 16.39 0.00zM1558.9 672.7l5.07 15.59 16.39 -0.00 -13.26 9.63 5.07 15.59 -13.26 -9.63 -13.26 9.63 5.07 -15.59 -13.26 -9.63 16.39 0.00zM1565.6 672.8l5.07 15.59 16.39 -0.00 -13.26 9.63 5.07 15.59 -13.26 -9.63 -13.26 9.63 5.07 -15.59 -13.26 -9.63 16.39 0.00zM1572.2 672.9l5.07 15.59 16.39 -0.00 -13.26 9.63 5.07 15.59 -13.26 -9.63 -13.26 9.63 5.07 -15.59 -13.26 -9.63 16.39 0.00zM1578.7 673l5.07 15.59 16.39 -0.00 -13.26 9.63 5.07 15.59 -13.26 -9.63 -13.26 9.63 5.07 -15.59 -13.26 -9.63 16.39 0.00zM1585.2 673.2l5.07 15.59 16.39 -0.00 -13.26 9.63 5.07 15.59 -13.26 -9.63 -13.26 9.63 5.07 -15.59 -13.26 -9.63 16.39 0.00zM1591.6 673.3l5.07 15.59 16.39 -0.00 -13.26 9.63 5.07 15.59 -13.26 -9.63 -13.26 9.63 5.07 -15.59 -13.26 -9.63 16.39 0.00zM1597.9 673.3l5.07 15.59 16.39 -0.00 -13.26 9.63 5.07 15.59 -13.26 -9.63 -13.26 9.63 5.07 -15.59 -13.26 -9.63 16.39 0.00zM1604.2 673.4l5.07 15.59 16.39 -0.00 -13.26 9.63 5.07 15.59 -13.26 -9.63 -13.26 9.63 5.07 -15.59 -13.26 -9.63 16.39 0.00zM1610.4 673.4l5.07 15.59 16.39 -0.00 -13.26 9.63 5.07 15.59 -13.26 -9.63 -13.26 9.63 5.07 -15.59 -13.26 -9.63 16.39 0.00zM1616.5 673.4l5.07 15.59 16.39 -0.00 -13.26 9.63 5.07 15.59 -13.26 -9.63 -13.26 9.63 5.07 -15.59 -13.26 -9.63 16.39 0.00zM1622.6 673.5l5.07 15.59 16.39 -0.00 -13.26 9.63 5.07 15.59 -13.26 -9.63 -13.26 9.63 5.07 -15.59 -13.26 -9.63 16.39 0.00zM1628.6 673.5l5.07 15.59 16.39 -0.00 -13.26 9.63 5.07 15.59 -13.26 -9.63 -13.26 9.63 5.07 -15.59 -13.26 -9.63 16.39 0.00zM1634.5 673.5l5.07 15.59 16.39 -0.00 -13.26 9.63 5.07 15.59 -13.26 -9.63 -13.26 9.63 5.07 -15.59 -13.26 -9.63 16.39 0.00zM1640.4 673.5l5.07 15.59 16.39 -0.00 -13.26 9.63 5.07 15.59 -13.26 -9.63 -13.26 9.63 5.07 -15.59 -13.26 -9.63 16.39 0.00zM1646.2 673.6l5.07 15.59 16.39 -0.00 -13.26 9.63 5.07 15.59 -13.26 -9.63 -13.26 9.63 5.07 -15.59 -13.26 -9.63 16.39 0.00zM1652 673.6l5.07 15.59 16.39 -0.00 -13.26 9.63 5.07 15.59 -13.26 -9.63 -13.26 9.63 5.07 -15.59 -13.26 -9.63 16.39 0.00zM1657.7 673.6l5.07 15.59 16.39 -0.00 -13.26 9.63 5.07 15.59 -13.26 -9.63 -13.26 9.63 5.07 -15.59 -13.26 -9.63 16.39 0.00zM1663.4 673.6l5.07 15.59 16.39 -0.00 -13.26 9.63 5.07 15.59 -13.26 -9.63 -13.26 9.63 5.07 -15.59 -13.26 -9.63 16.39 0.00zM1669 673.7l5.07 15.59 16.39 -0.00 -13.26 9.63 5.07 15.59 -13.26 -9.63 -13.26 9.63 5.07 -15.59 -13.26 -9.63 16.39 0.00zM1674.5 673.7l5.07 15.59 16.39 -0.00 -13.26 9.63 5.07 15.59 -13.26 -9.63 -13.26 9.63 5.07 -15.59 -13.26 -9.63 16.39 0.00zM1680 673.7l5.07 15.59 16.39 -0.00 -13.26 9.63 5.07 15.59 -13.26 -9.63 -13.26 9.63 5.07 -15.59 -13.26 -9.63 16.39 0.00zM1685.4 673.7l5.07 15.59 16.39 -0.00 -13.26 9.63 5.07 15.59 -13.26 -9.63 -13.26 9.63 5.07 -15.59 -13.26 -9.63 16.39 0.00zM1690.8 673.7l5.07 15.59 16.39 -0.00 -13.26 9.63 5.07 15.59 -13.26 -9.63 -13.26 9.63 5.07 -15.59 -13.26 -9.63 16.39 0.00zM1696.2 673.8l5.07 15.59 16.39 -0.00 -13.26 9.63 5.07 15.59 -13.26 -9.63 -13.26 9.63 5.07 -15.59 -13.26 -9.63 16.39 0.00zM1701.5 673.8l5.07 15.59 16.39 -0.00 -13.26 9.63 5.07 15.59 -13.26 -9.63 -13.26 9.63 5.07 -15.59 -13.26 -9.63 16.39 0.00zM1706.7 673.8l5.07 15.59 16.39 -0.00 -13.26 9.63 5.07 15.59 -13.26 -9.63 -13.26 9.63 5.07 -15.59 -13.26 -9.63 16.39 0.00zM1711.9 673.8l5.07 15.59 16.39 -0.00 -13.26 9.63 5.07 15.59 -13.26 -9.63 -13.26 9.63 5.07 -15.59 -13.26 -9.63 16.39 0.00zM1717 673.9l5.07 15.59 16.39 -0.00 -13.26 9.63 5.07 15.59 -13.26 -9.63 -13.26 9.63 5.07 -15.59 -13.26 -9.63 16.39 0.00zM1722.1 673.9l5.07 15.59 16.39 -0.00 -13.26 9.63 5.07 15.59 -13.26 -9.63 -13.26 9.63 5.07 -15.59 -13.26 -9.63 16.39 0.00zM1727.2 673.9l5.07 15.59 16.39 -0.00 -13.26 9.63 5.07 15.59 -13.26 -9.63 -13.26 9.63 5.07 -15.59 -13.26 -9.63 16.39 0.00zM1732.2 674l5.07 15.59 16.39 -0.00 -13.26 9.63 5.07 15.59 -13.26 -9.63 -13.26 9.63 5.07 -15.59 -13.26 -9.63 16.39 0.00zM1737.2 674l5.07 15.59 16.39 -0.00 -13.26 9.63 5.07 15.59 -13.26 -9.63 -13.26 9.63 5.07 -15.59 -13.26 -9.63 16.39 0.00zM1742.1 674.1l5.07 15.59 16.39 -0.00 -13.26 9.63 5.07 15.59 -13.26 -9.63 -13.26 9.63 5.07 -15.59 -13.26 -9.63 16.39 0.00zM1747 674.1l5.07 15.59 16.39 -0.00 -13.26 9.63 5.07 15.59 -13.26 -9.63 -13.26 9.63 5.07 -15.59 -13.26 -9.63 16.39 0.00zM1751.8 674.2l5.07 15.59 16.39 -0.00 -13.26 9.63 5.07 15.59 -13.26 -9.63 -13.26 9.63 5.07 -15.59 -13.26 -9.63 16.39 0.00zM1756.6 674.2l5.07 15.59 16.39 -0.00 -13.26 9.63 5.07 15.59 -13.26 -9.63 -13.26 9.63 5.07 -15.59 -13.26 -9.63 16.39 0.00zM1761.4 674.2l5.07 15.59 16.39 -0.00 -13.26 9.63 5.07 15.59 -13.26 -9.63 -13.26 9.63 5.07 -15.59 -13.26 -9.63 16.39 0.00zM1766.1 674.3l5.07 15.59 16.39 -0.00 -13.26 9.63 5.07 15.59 -13.26 -9.63 -13.26 9.63 5.07 -15.59 -13.26 -9.63 16.39 0.00zM1770.7 674.3l5.07 15.59 16.39 -0.00 -13.26 9.63 5.07 15.59 -13.26 -9.63 -13.26 9.63 5.07 -15.59 -13.26 -9.63 16.39 0.00zM1775.4 674.4l5.07 15.59 16.39 -0.00 -13.26 9.63 5.07 15.59 -13.26 -9.63 -13.26 9.63 5.07 -15.59 -13.26 -9.63 16.39 0.00zM1780 674.4l5.07 15.59 16.39 -0.00 -13.26 9.63 5.07 15.59 -13.26 -9.63 -13.26 9.63 5.07 -15.59 -13.26 -9.63 16.39 0.00zM1784.5 674.4l5.07 15.59 16.39 -0.00 -13.26 9.63 5.07 15.59 -13.26 -9.63 -13.26 9.63 5.07 -15.59 -13.26 -9.63 16.39 0.00zM1789 674.3l5.07 15.59 16.39 -0.00 -13.26 9.63 5.07 15.59 -13.26 -9.63 -13.26 9.63 5.07 -15.59 -13.26 -9.63 16.39 0.00zM1793.5 674.3l5.07 15.59 16.39 -0.00 -13.26 9.63 5.07 15.59 -13.26 -9.63 -13.26 9.63 5.07 -15.59 -13.26 -9.63 16.39 0.00zM1798 674.3l5.07 15.59 16.39 -0.00 -13.26 9.63 5.07 15.59 -13.26 -9.63 -13.26 9.63 5.07 -15.59 -13.26 -9.63 16.39 0.00zM1802.4 674.3l5.07 15.59 16.39 -0.00 -13.26 9.63 5.07 15.59 -13.26 -9.63 -13.26 9.63 5.07 -15.59 -13.26 -9.63 16.39 0.00zM1806.7 674.3l5.07 15.59 16.39 -0.00 -13.26 9.63 5.07 15.59 -13.26 -9.63 -13.26 9.63 5.07 -15.59 -13.26 -9.63 16.39 0.00zM1811.1 674.3l5.07 15.59 16.39 -0.00 -13.26 9.63 5.07 15.59 -13.26 -9.63 -13.26 9.63 5.07 -15.59 -13.26 -9.63 16.39 0.00zM1815.4 674.3l5.07 15.59 16.39 -0.00 -13.26 9.63 5.07 15.59 -13.26 -9.63 -13.26 9.63 5.07 -15.59 -13.26 -9.63 16.39 0.00zM1819.6 674.2l5.07 15.59 16.39 -0.00 -13.26 9.63 5.07 15.59 -13.26 -9.63 -13.26 9.63 5.07 -15.59 -13.26 -9.63 16.39 0.00zM1823.9 674.2l5.07 15.59 16.39 -0.00 -13.26 9.63 5.07 15.59 -13.26 -9.63 -13.26 9.63 5.07 -15.59 -13.26 -9.63 16.39 0.00zM1828.1 674.2l5.07 15.59 16.39 -0.00 -13.26 9.63 5.07 15.59 -13.26 -9.63 -13.26 9.63 5.07 -15.59 -13.26 -9.63 16.39 0.00zM1832.2 674.2l5.07 15.59 16.39 -0.00 -13.26 9.63 5.07 15.59 -13.26 -9.63 -13.26 9.63 5.07 -15.59 -13.26 -9.63 16.39 0.00zM1836.4 674.2l5.07 15.59 16.39 -0.00 -13.26 9.63 5.07 15.59 -13.26 -9.63 -13.26 9.63 5.07 -15.59 -13.26 -9.63 16.39 0.00zM1840.5 674.1l5.07 15.59 16.39 -0.00 -13.26 9.63 5.07 15.59 -13.26 -9.63 -13.26 9.63 5.07 -15.59 -13.26 -9.63 16.39 0.00zM1844.6 674.1l5.07 15.59 16.39 -0.00 -13.26 9.63 5.07 15.59 -13.26 -9.63 -13.26 9.63 5.07 -15.59 -13.26 -9.63 16.39 0.00zM1848.6 674l5.07 15.59 16.39 -0.00 -13.26 9.63 5.07 15.59 -13.26 -9.63 -13.26 9.63 5.07 -15.59 -13.26 -9.63 16.39 0.00zM1852.6 674l5.07 15.59 16.39 -0.00 -13.26 9.63 5.07 15.59 -13.26 -9.63 -13.26 9.63 5.07 -15.59 -13.26 -9.63 16.39 0.00zM1856.6 674l5.07 15.59 16.39 -0.00 -13.26 9.63 5.07 15.59 -13.26 -9.63 -13.26 9.63 5.07 -15.59 -13.26 -9.63 16.39 0.00zM1860.5 673.9l5.07 15.59 16.39 -0.00 -13.26 9.63 5.07 15.59 -13.26 -9.63 -13.26 9.63 5.07 -15.59 -13.26 -9.63 16.39 0.00zM1864.4 673.9l5.07 15.59 16.39 -0.00 -13.26 9.63 5.07 15.59 -13.26 -9.63 -13.26 9.63 5.07 -15.59 -13.26 -9.63 16.39 0.00zM1868.3 673.8l5.07 15.59 16.39 -0.00 -13.26 9.63 5.07 15.59 -13.26 -9.63 -13.26 9.63 5.07 -15.59 -13.26 -9.63 16.39 0.00zM1872.2 673.8l5.07 15.59 16.39 -0.00 -13.26 9.63 5.07 15.59 -13.26 -9.63 -13.26 9.63 5.07 -15.59 -13.26 -9.63 16.39 0.00zM1876 673.8l5.07 15.59 16.39 -0.00 -13.26 9.63 5.07 15.59 -13.26 -9.63 -13.26 9.63 5.07 -15.59 -13.26 -9.63 16.39 0.00zM1879.8 673.7l5.07 15.59 16.39 -0.00 -13.26 9.63 5.07 15.59 -13.26 -9.63 -13.26 9.63 5.07 -15.59 -13.26 -9.63 16.39 0.00zM1883.6 673.7l5.07 15.59 16.39 -0.00 -13.26 9.63 5.07 15.59 -13.26 -9.63 -13.26 9.63 5.07 -15.59 -13.26 -9.63 16.39 0.00zM1887.3 673.7l5.07 15.59 16.39 -0.00 -13.26 9.63 5.07 15.59 -13.26 -9.63 -13.26 9.63 5.07 -15.59 -13.26 -9.63 16.39 0.00zM1891.1 673.6l5.07 15.59 16.39 -0.00 -13.26 9.63 5.07 15.59 -13.26 -9.63 -13.26 9.63 5.07 -15.59 -13.26 -9.63 16.39 0.00zM1894.7 673.6l5.07 15.59 16.39 -0.00 -13.26 9.63 5.07 15.59 -13.26 -9.63 -13.26 9.63 5.07 -15.59 -13.26 -9.63 16.39 0.00zM1898.4 673.5l5.07 15.59 16.39 -0.00 -13.26 9.63 5.07 15.59 -13.26 -9.63 -13.26 9.63 5.07 -15.59 -13.26 -9.63 16.39 0.00zM1902 673.5l5.07 15.59 16.39 -0.00 -13.26 9.63 5.07 15.59 -13.26 -9.63 -13.26 9.63 5.07 -15.59 -13.26 -9.63 16.39 0.00zM1905.7 673.4l5.07 15.59 16.39 -0.00 -13.26 9.63 5.07 15.59 -13.26 -9.63 -13.26 9.63 5.07 -15.59 -13.26 -9.63 16.39 0.00zM1909.2 673.4l5.07 15.59 16.39 -0.00 -13.26 9.63 5.07 15.59 -13.26 -9.63 -13.26 9.63 5.07 -15.59 -13.26 -9.63 16.39 0.00zM1912.8 673.4l5.07 15.59 16.39 -0.00 -13.26 9.63 5.07 15.59 -13.26 -9.63 -13.26 9.63 5.07 -15.59 -13.26 -9.63 16.39 0.00zM1916.3 673.3l5.07 15.59 16.39 -0.00 -13.26 9.63 5.07 15.59 -13.26 -9.63 -13.26 9.63 5.07 -15.59 -13.26 -9.63 16.39 0.00zM1919.8 673.3l5.07 15.59 16.39 -0.00 -13.26 9.63 5.07 15.59 -13.26 -9.63 -13.26 9.63 5.07 -15.59 -13.26 -9.63 16.39 0.00zM1923.3 673.2l5.07 15.59 16.39 -0.00 -13.26 9.63 5.07 15.59 -13.26 -9.63 -13.26 9.63 5.07 -15.59 -13.26 -9.63 16.39 0.00zM1926.8 673.2l5.07 15.59 16.39 -0.00 -13.26 9.63 5.07 15.59 -13.26 -9.63 -13.26 9.63 5.07 -15.59 -13.26 -9.63 16.39 0.00zM1930.2 673.1l5.07 15.59 16.39 -0.00 -13.26 9.63 5.07 15.59 -13.26 -9.63 -13.26 9.63 5.07 -15.59 -13.26 -9.63 16.39 0.00zM1933.6 673.1l5.07 15.59 16.39 -0.00 -13.26 9.63 5.07 15.59 -13.26 -9.63 -13.26 9.63 5.07 -15.59 -13.26 -9.63 16.39 0.00zM1937 673l5.07 15.59 16.39 -0.00 -13.26 9.63 5.07 15.59 -13.26 -9.63 -13.26 9.63 5.07 -15.59 -13.26 -9.63 16.39 0.00zM1940.4 673l5.07 15.59 16.39 -0.00 -13.26 9.63 5.07 15.59 -13.26 -9.63 -13.26 9.63 5.07 -15.59 -13.26 -9.63 16.39 0.00zM1943.7 673l5.07 15.59 16.39 -0.00 -13.26 9.63 5.07 15.59 -13.26 -9.63 -13.26 9.63 5.07 -15.59 -13.26 -9.63 16.39 0.00zM1947 672.9l5.07 15.59 16.39 -0.00 -13.26 9.63 5.07 15.59 -13.26 -9.63 -13.26 9.63 5.07 -15.59 -13.26 -9.63 16.39 0.00zM1950.3 672.9l5.07 15.59 16.39 -0.00 -13.26 9.63 5.07 15.59 -13.26 -9.63 -13.26 9.63 5.07 -15.59 -13.26 -9.63 16.39 0.00zM1953.6 672.8l5.07 15.59 16.39 -0.00 -13.26 9.63 5.07 15.59 -13.26 -9.63 -13.26 9.63 5.07 -15.59 -13.26 -9.63 16.39 0.00zM1956.8 672.8l5.07 15.59 16.39 -0.00 -13.26 9.63 5.07 15.59 -13.26 -9.63 -13.26 9.63 5.07 -15.59 -13.26 -9.63 16.39 0.00zM1960.1 672.7l5.07 15.59 16.39 -0.00 -13.26 9.63 5.07 15.59 -13.26 -9.63 -13.26 9.63 5.07 -15.59 -13.26 -9.63 16.39 0.00zM1963.3 672.7l5.07 15.59 16.39 -0.00 -13.26 9.63 5.07 15.59 -13.26 -9.63 -13.26 9.63 5.07 -15.59 -13.26 -9.63 16.39 0.00zM1966.4 672.7l5.07 15.59 16.39 -0.00 -13.26 9.63 5.07 15.59 -13.26 -9.63 -13.26 9.63 5.07 -15.59 -13.26 -9.63 16.39 0.00zM1969.6 672.7l5.07 15.59 16.39 -0.00 -13.26 9.63 5.07 15.59 -13.26 -9.63 -13.26 9.63 5.07 -15.59 -13.26 -9.63 16.39 0.00zM1972.7 672.7l5.07 15.59 16.39 -0.00 -13.26 9.63 5.07 15.59 -13.26 -9.63 -13.26 9.63 5.07 -15.59 -13.26 -9.63 16.39 0.00zM1975.9 672.6l5.07 15.59 16.39 -0.00 -13.26 9.63 5.07 15.59 -13.26 -9.63 -13.26 9.63 5.07 -15.59 -13.26 -9.63 16.39 0.00zM1979 672.6l5.07 15.59 16.39 -0.00 -13.26 9.63 5.07 15.59 -13.26 -9.63 -13.26 9.63 5.07 -15.59 -13.26 -9.63 16.39 0.00zM1982 672.6l5.07 15.59 16.39 -0.00 -13.26 9.63 5.07 15.59 -13.26 -9.63 -13.26 9.63 5.07 -15.59 -13.26 -9.63 16.39 0.00zM1985.1 672.6l5.07 15.59 16.39 -0.00 -13.26 9.63 5.07 15.59 -13.26 -9.63 -13.26 9.63 5.07 -15.59 -13.26 -9.63 16.39 0.00zM1988.1 672.6l5.07 15.59 16.39 -0.00 -13.26 9.63 5.07 15.59 -13.26 -9.63 -13.26 9.63 5.07 -15.59 -13.26 -9.63 16.39 0.00zM1991.1 672.6l5.07 15.59 16.39 -0.00 -13.26 9.63 5.07 15.59 -13.26 -9.63 -13.26 9.63 5.07 -15.59 -13.26 -9.63 16.39 0.00z" fill="#000" stroke="#000" stroke-width="3.4" stroke-linejoin="round"/>
<path d="M241.5 697.9H1965.0" stroke="#0000ff" stroke-width="2.2" fill="none"/>
</g>
<path d="M1030.4 2.5V28.2M1030.4 63.2V89M1030.4 124V149.8M1030.4 184.8V210.5M1030.4 245.6V271.4M1030.4 306.4V332.2M1030.4 367.2V392.9M1030.4 428V453.8M1030.4 488.8V514.5M1030.4 549.6V575.3M1030.4 610.5V636.1M1030.4 671.2V696.9M1030.4 732V757.7M1030.4 792.9V818.5M1030.4 853.6V879.3M1030.4 914.5V940.1M1030.4 975.2V1000.9M1030.4 1036V1061.7M1030.4 1096.8V1122.5M1030.4 1157.7V1183.3M1030.4 1218.5V1244.1M1030.4 1279.2V1304.9M1030.4 1340V1365.7M1135.3 6.1V31.8M1135.3 66.8V92.5M1135.3 127.6V153.3M1135.3 188.4V214.1M1135.3 249.2V274.9M1135.3 310.1V335.8M1135.3 370.8V396.6M1135.3 431.6V457.4M1135.3 492.4V518.1M1135.3 553.2V578.9M1135.3 614.1V639.8M1135.3 674.9V700.5M1135.3 735.6V761.3M1135.3 796.5V822.1M1135.3 857.2V882.9M1135.3 918.1V943.8M1135.3 978.9V1004.5M1135.3 1039.6V1065.3M1135.3 1100.4V1126.1M1135.3 1161.2V1186.9M1135.3 1222V1247.7M1135.3 1282.8V1308.5M1135.3 1343.6V1369.3" stroke="#ff0000" stroke-width="6.9" stroke-linecap="round" fill="none"/>
<text transform="translate(212 104.0) scale(1 1.03)" font-size="66.7" text-anchor="end">8</text>
<text transform="translate(212 412.5) scale(1 1.03)" font-size="66.7" text-anchor="end">4</text>
<text transform="translate(212 720.9) scale(1 1.03)" font-size="66.7" text-anchor="end">0</text>
<text transform="translate(126.8 1035.5) scale(1.327 1.08)" font-size="66.7">−</text>
<text transform="translate(212 1029.4) scale(1 1.03)" font-size="66.7" text-anchor="end">4</text>
<text transform="translate(126.8 1344.0) scale(1.327 1.08)" font-size="66.7">−</text>
<text transform="translate(212 1337.9) scale(1 1.03)" font-size="66.7" text-anchor="end">8</text>
<text transform="translate(469.7 1486.8) scale(1 1.03)" font-size="66.7" text-anchor="middle">10</text>
<text transform="translate(1216.6 1486.8) scale(1 1.03)" font-size="66.7" text-anchor="middle">100</text>
<text transform="translate(1961.5 1486.8) scale(1 1.03)" font-size="66.7" text-anchor="middle">1000</text>
<text transform="translate(66.2 697.1) rotate(-90)" font-size="80" text-anchor="middle">VF/TI</text>
<text x="1069.3" y="1596.2" font-size="77.5" class="i">y</text>
<text x="1100.3" y="1578.2" font-size="74.5">+</text>
<text x="1484.8" y="182.0" font-size="64.3" class="i">y</text>
<text x="1512.3" y="166.9" font-size="61">+</text>
<text transform="translate(1515.2 193.3) scale(1.03 1)" font-size="43.8" class="i">p</text>
<text transform="translate(1538.5 198.1) scale(1.26 1.1)" font-size="46.7">−</text>
<text transform="translate(1570.3 193.3) scale(1.045 1)" font-size="43.8" class="i">TBL</text>
<text x="626.5" y="494.8" font-size="64.3" class="i">y</text>
<text x="652.8" y="477.2" font-size="62">+</text>
<text transform="translate(655.5 503.4) scale(1.03 1)" font-size="43.8" class="i">p</text>
<text transform="translate(680.2 509.2) scale(1.26 1.1)" font-size="46.7">−</text>
<text transform="translate(713.3 503.4) scale(1.045 1)" font-size="43.8" class="i">CP</text>
<path d="M1158.3 223.7L1421.7 180.1" stroke="#000" stroke-width="2.2" fill="none"/>
<path d="M1455.2 174.6L1421.2 189.8L1418.1 171.1Z" fill="#000"/>
<path d="M992.5 375.0L769.0 417.7" stroke="#000" stroke-width="2.2" fill="none"/>
<path d="M735.6 424.1L769.2 408.0L772.7 426.7Z" fill="#000"/>
<path d="M1312.30 1095.30L1317.53 1111.40L1334.46 1111.40L1320.76 1121.35L1326.00 1137.45L1312.30 1127.50L1298.60 1137.45L1303.84 1121.35L1290.14 1111.40L1307.07 1111.40Z" fill="#000" stroke="#000" stroke-width="3.4" stroke-linejoin="round"/>
<rect x="1300.7" y="1201.1" width="23.9" height="23.9" fill="#fff" stroke="#808080" stroke-width="7.67" stroke-linejoin="round"/>
<circle cx="1312.5" cy="1307.5" r="13.55" fill="#fff" stroke="#808080" stroke-width="7.9"/>
<text x="1359" y="1136.7" font-size="66.7">TBL</text>
<text x="1501" y="1136.7" font-size="66.7" class="i">Re</text>
<text x="1572" y="1146.0" font-size="46.7" class="i">τ</text>
<text transform="translate(1602.4 1143.2) scale(1.42 1.04)" font-size="66.7" stroke="#000" stroke-width="0.45">=</text>
<text transform="translate(1670 1137.0) scale(0.985 1.03)" font-size="66.7">1043</text>
<text x="1359" y="1232.5" font-size="66.7">Pipe</text>
<text x="1494" y="1232.5" font-size="66.7" class="i">Re</text>
<text x="1565" y="1241.8" font-size="46.7" class="i">τ</text>
<text transform="translate(1595.0 1239.0) scale(1.42 1.04)" font-size="66.7" stroke="#000" stroke-width="0.45">=</text>
<text transform="translate(1662 1232.8) scale(0.985 1.03)" font-size="66.7">1142</text>
<text x="1360.5" y="1328.8" font-size="66.7">Channel</text>
<text x="1599" y="1328.8" font-size="66.7" class="i">Re</text>
<text x="1670.5" y="1338.1" font-size="46.7" class="i">τ</text>
<text transform="translate(1700.8 1335.3) scale(1.42 1.04)" font-size="66.7" stroke="#000" stroke-width="0.45">=</text>
<text transform="translate(1768 1329.1) scale(0.985 1.03)" font-size="66.7">1000</text>
<text x="1740" y="1364" font-size="35" class="i">τ</text>
</svg></body></html>
